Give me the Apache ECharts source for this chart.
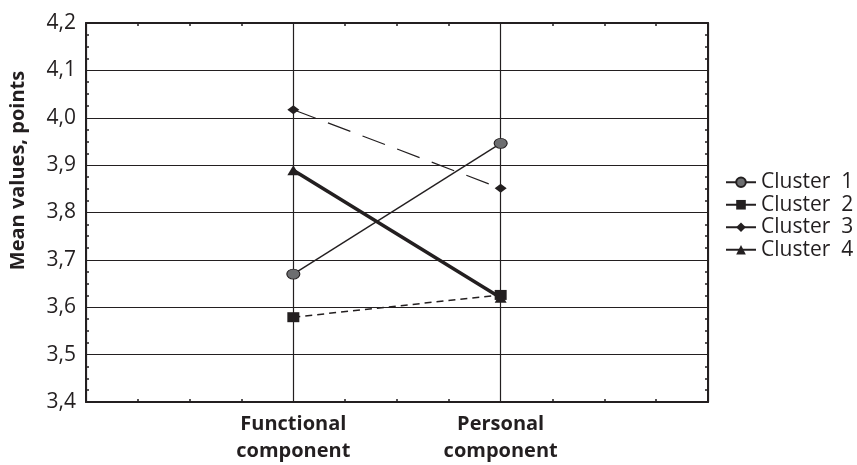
<!DOCTYPE html>
<html>
<head>
<meta charset="utf-8">
<script src="https://cdn.jsdelivr.net/npm/echarts@6/dist/echarts.min.js"></script>
<style>
  html, body { margin: 0; padding: 0; background: #fff; }
  #chart { width: 857px; height: 465px; }
</style>
</head>
<body>
<div id="chart"></div>
<script>
// categories sit at x = 1 and x = 2 on a 0..3 axis
var categories = ['Functional\ncomponent', 'Personal\ncomponent'];
var catPos = [1, 2];
var names = ['Cluster  1', 'Cluster  2', 'Cluster  3', 'Cluster  4'];
var cluster1 = [3.67, 3.946];
var cluster2 = [3.579, 3.626];
var cluster3 = [4.017, 3.851];
var cluster4 = [3.889, 3.62];
var yTicks = [3.4, 3.5, 3.6, 3.7, 3.8, 3.9, 4.0, 4.1, 4.2];

var font = '"Open Sans", "Noto Sans", sans-serif';
var chart = echarts.init(document.getElementById('chart'));

function pts(vals) {
    return vals.map(function (v, i) { return [catPos[i], v]; });
}

var axisCommon = {
    axisLine: { show: true, onZero: false, lineStyle: { color: '#231f20', width: 2 } },
    axisTick: { show: true, inside: true, length: 4, lineStyle: { color: '#231f20' } },
    minorTick: { show: true, splitNumber: 4, length: 3, lineStyle: { color: '#231f20', width: 1.5 } }
};

var option = {
    animation: false,
    backgroundColor: '#fff',
    grid: { left: 83, right: 149, top: 23, bottom: 63 },
    legend: {
        orient: 'vertical',
        left: 720,
        top: 166,
        itemWidth: 30,
        itemHeight: 12,
        itemGap: 0,
        lineStyle: { type: 'solid' },
        textStyle: { fontFamily: font, fontSize: 21, lineHeight: 22.5, color: '#231f20' },
        data: names
    },
    xAxis: [
        Object.assign({}, axisCommon, {
            type: 'value', min: 0, max: 3, interval: 1, position: 'bottom',
            splitLine: { show: true, lineStyle: { color: '#231f20', width: 1.2 } },
            axisLabel: {
                fontFamily: font, fontSize: 20, fontWeight: 'bold', color: '#231f20',
                lineHeight: 27, margin: 9,
                formatter: function (v) {
                    var i = catPos.indexOf(v);
                    return i >= 0 ? categories[i] : '';
                }
            }
        }),
        Object.assign({}, axisCommon, {
            type: 'value', min: 0, max: 3, interval: 1, position: 'top',
            splitLine: { show: false }, axisLabel: { show: false }
        })
    ],
    yAxis: [
        Object.assign({}, axisCommon, {
            type: 'value', min: 3.4, max: 4.2, interval: 0.1, position: 'left',
            name: 'Mean values, points',
            nameLocation: 'middle',
            nameGap: 58,
            nameTextStyle: {
                fontFamily: font, fontSize: 20, fontWeight: 'bold', color: '#231f20',
                padding: [0, 0, 0, 84]
            },
            splitLine: { show: true, lineStyle: { color: '#231f20', width: 1.2 } },
            axisLabel: {
                fontFamily: font, fontSize: 21, color: '#231f20', margin: 10,
                formatter: function (v) {
                    var t = yTicks.find(function (k) { return Math.abs(k - v) < 1e-6; });
                    return t !== undefined ? t.toFixed(1).replace('.', ',') : '';
                }
            }
        }),
        Object.assign({}, axisCommon, {
            type: 'value', min: 3.4, max: 4.2, interval: 0.1, position: 'right',
            splitLine: { show: false }, axisLabel: { show: false }
        })
    ],
    series: [
        {
            name: names[0], type: 'line', data: pts(cluster1),
            symbol: 'circle', symbolSize: [13, 10],
            lineStyle: { color: '#231f20', width: 1.4 },
            itemStyle: { color: '#6d6e70', borderColor: '#231f20', borderWidth: 1 }
        },
        {
            name: names[1], type: 'line', data: pts(cluster2),
            symbol: 'rect', symbolSize: [12, 10],
            lineStyle: { color: '#231f20', width: 1.5, type: [7, 5] },
            itemStyle: { color: '#231f20' }
        },
        {
            name: names[2], type: 'line', data: pts(cluster3),
            symbol: 'diamond', symbolSize: [12, 9],
            lineStyle: { color: '#231f20', width: 1.2, type: [24, 13] },
            itemStyle: { color: '#231f20' }
        },
        {
            name: names[3], type: 'line', data: pts(cluster4),
            symbol: 'triangle', symbolSize: [12, 10],
            lineStyle: { color: '#231f20', width: 3.5 },
            itemStyle: { color: '#231f20' }
        }
    ]
};

chart.setOption(option);
</script>
</body>
</html>
